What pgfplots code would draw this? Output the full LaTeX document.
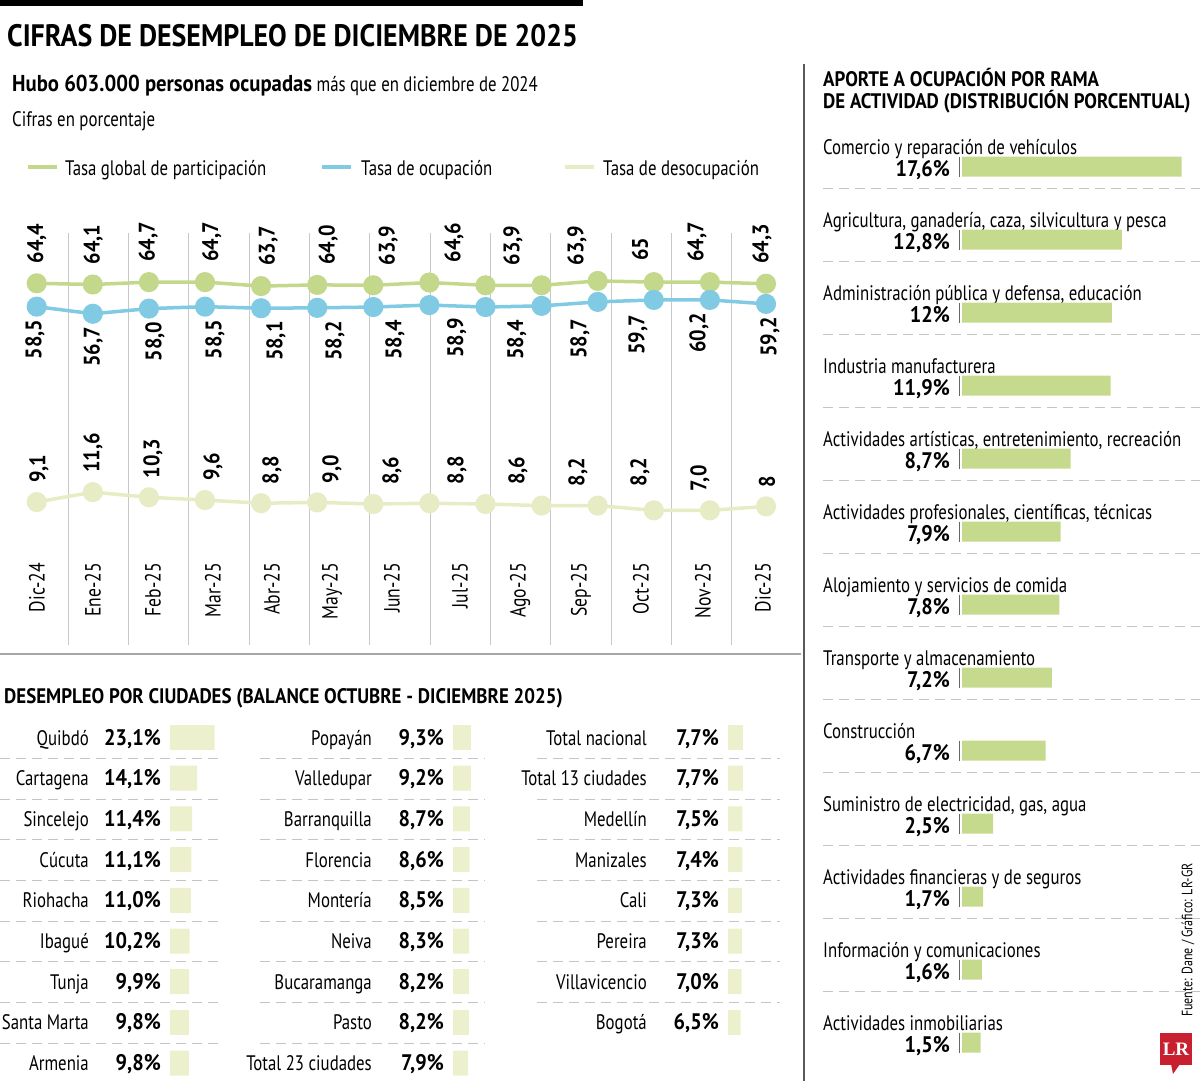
\documentclass[border=0pt]{standalone}
\usepackage{fontspec}
\setmainfont{PT Sans}[FakeStretch=0.8]
\newfontfamily\bfc{PT Sans}[FakeStretch=0.9]
\newfontfamily\lrfont{Liberation Serif}
\usepackage{pgfplots}
\usepackage{pgfplotstable}
\pgfplotsset{compat=1.18}

\definecolor{cpart}{HTML}{C4D88C}
\definecolor{cocup}{HTML}{80CAE4}
\definecolor{cdes}{HTML}{E7ECC4}
\definecolor{cbar}{HTML}{C6DA8E}
\definecolor{ccity}{HTML}{ECF0CC}
\definecolor{cgrid}{HTML}{C8C8C8}
\definecolor{cdash}{HTML}{C4C4C4}
\definecolor{lrred}{HTML}{C8202F}
\newcommand\fs[1]{\fontsize{#1}{#1}\selectfont}
\newcommand\bb{\bfc\bfseries}

% city blocks: row, value, label
\pgfplotstableread{
r v l
0 23.1 {23,1}
1 14.1 {14,1}
2 11.4 {11,4}
3 11.1 {11,1}
4 11.0 {11,0}
5 10.2 {10,2}
6 9.9 {9,9}
7 9.8 {9,8}
8 9.8 {9,8}
}\cityA
\pgfplotstableread{
r v l
0 9.3 {9,3}
1 9.2 {9,2}
2 8.7 {8,7}
3 8.6 {8,6}
4 8.5 {8,5}
5 8.3 {8,3}
6 8.2 {8,2}
7 8.2 {8,2}
8 7.9 {7,9}
}\cityB
\pgfplotstableread{
r v l
0 7.7 {7,7}
1 7.7 {7,7}
2 7.5 {7,5}
3 7.4 {7,4}
4 7.3 {7,3}
5 7.3 {7,3}
6 7.0 {7,0}
7 6.5 {6,5}
}\cityC
\pgfplotstableread{
r v l
0 17.6 {17,6}
1 12.8 {12,8}
2 12.0 {12}
3 11.9 {11,9}
4 8.7 {8,7}
5 7.9 {7,9}
6 7.8 {7,8}
7 7.2 {7,2}
8 6.7 {6,7}
9 2.5 {2,5}
10 1.7 {1,7}
11 1.6 {1,6}
12 1.5 {1,5}
}\ramas

\pgfplotsset{
  citybox/.style={scale only axis, width=19.3pt, height=325.6pt,
    xmin=0, xmax=10, ymin=0, ymax=8, y dir=reverse, clip=false,
    axis line style={draw=none}, major tick length=0pt, xtick=\empty,
    ytick={0,...,8},
    yticklabel style={anchor=base east, inner sep=0pt, xshift=-81pt, yshift=-7.5pt, font=\fs{21}}},
  pctlab/.style={draw=none, mark=none, nodes near coords={\pgfplotspointmeta\%},
    point meta=explicit symbolic,
    every node near coord/.append style={anchor=base east, inner sep=0pt, xshift=-9pt, yshift=-7.5pt, font=\fs{22.5}\bb, text=black}},
}

\begin{document}
\begin{tikzpicture}
\path[use as bounding box] (0pt,0pt) rectangle (1200pt,-1081pt);
\fill[black] (0pt,0pt) rectangle (583pt,-6pt);
\node[anchor=base west, inner sep=0pt] at (7pt,-47pt) {\fs{31}\bb CIFRAS DE DESEMPLEO DE DICIEMBRE DE 2025};
\node[anchor=base west, inner sep=0pt] at (12pt,-92pt) {\fs{21}{\fs{23}\bb Hubo 603.000 personas ocupadas} más que en diciembre de 2024};
\node[anchor=base west, inner sep=0pt] at (12pt,-126pt) {\fs{21}Cifras en porcentaje};

% legend
\draw[cpart, line width=4pt] (28pt,-167pt) -- (57pt,-167pt);
\node[anchor=base west, inner sep=0pt] at (65pt,-175pt) {\fs{21}Tasa global de participación};
\draw[cocup, line width=4pt] (322pt,-167pt) -- (351pt,-167pt);
\node[anchor=base west, inner sep=0pt] at (361pt,-175pt) {\fs{21}Tasa de ocupación};
\draw[cdes, line width=4pt] (565pt,-167pt) -- (594pt,-167pt);
\node[anchor=base west, inner sep=0pt] at (603pt,-175pt) {\fs{21}Tasa de desocupación};

% monthly rates
\begin{axis}[at={(0pt,-645pt)}, anchor=south west, scale only axis,
  width=800pt, height=412pt, xmin=0, xmax=800, ymin=-27.05, ymax=77.12,
  clip=false, axis line style={draw=none}, ytick=\empty, major tick length=0pt,
  xtick={37,93,153,213,272,332,392,460,520,581,641,703,763},
  xticklabels={Dic-24,Ene-25,Feb-25,Mar-25,Abr-25,May-25,Jun-25,Jul-25,Ago-25,Sep-25,Oct-25,Nov-25,Dic-25},
  xticklabel style={rotate=90, anchor=east, inner sep=0pt, font=\fs{22}},
  xticklabel shift=-82pt,
  extra x ticks={68.3,128.6,188.9,249.2,309.5,369.8,430.1,490.4,550.7,611,671.3,731.6},
  extra x tick labels={},
  extra x tick style={grid=major, major grid style={cgrid, line width=0.9pt}},
]
\addplot[cpart, line width=3.5pt, mark=*, mark size=8.3pt, mark options={draw=none, fill=cpart}] table {
x y
36.7 64.4
92.8 64.1
148.9 64.7
205.0 64.7
261.1 63.7
317.2 64.0
373.3 63.9
429.4 64.6
485.5 63.9
541.6 63.9
597.7 65.0
653.8 64.7
709.9 64.7
766.0 64.3
};
\addplot[cocup, line width=3.5pt, mark=*, mark size=8.3pt, mark options={draw=none, fill=cocup}] table {
x y
36.7 58.5
92.8 56.7
148.9 58.0
205.0 58.5
261.1 58.1
317.2 58.2
373.3 58.4
429.4 58.9
485.5 58.4
541.6 58.7
597.7 59.7
653.8 60.2
709.9 60.2
766.0 59.2
};
\addplot[cdes, line width=3.5pt, mark=*, mark size=8.3pt, mark options={draw=none, fill=cdes}] table {
x y
36.7 9.1
92.8 11.6
148.9 10.3
205.0 9.6
261.1 8.8
317.2 9.0
373.3 8.6
429.4 8.8
485.5 8.6
541.6 8.2
597.7 8.2
653.8 7.0
709.9 7.0
766.0 8.0
};
% value labels
\addplot[draw=none, mark=none, nodes near coords, point meta=explicit symbolic,
  every node near coord/.append style={yshift=20pt, rotate=90, anchor=west, inner sep=0pt, font=\fs{22.5}\bb, text=black}]
  table[meta=l] {
x y l
36.7 64.4 {64,4}
93.3 64.1 {64,1}
148.3 64.7 {64,7}
211.7 64.7 {64,7}
268.3 63.7 {63,7}
328.3 64.0 {64,0}
388.3 63.9 {63,9}
454 64.6 {64,6}
513 63.9 {63,9}
577 63.9 {63,9}
640 65 {65}
697 64.7 {64,7}
762 64.3 {64,3}
};
\addplot[draw=none, mark=none, nodes near coords, point meta=explicit symbolic,
  every node near coord/.append style={yshift=-13pt, rotate=90, anchor=east, inner sep=0pt, font=\fs{22.5}\bb, text=black}]
  table[meta=l] {
x y l
35 58.5 {58,5}
93.3 56.7 {56,7}
155 58.0 {58,0}
215 58.5 {58,5}
276 58.1 {58,1}
335 58.2 {58,2}
395 58.4 {58,4}
456.7 58.9 {58,9}
516.7 58.4 {58,4}
580 58.7 {58,7}
638 59.7 {59,7}
699 60.2 {60,2}
770 59.2 {59,2}
};
\addplot[draw=none, mark=none, nodes near coords, point meta=explicit symbolic,
  every node near coord/.append style={yshift=19pt, rotate=90, anchor=west, inner sep=0pt, font=\fs{22.5}\bb, text=black}]
  table[meta=l] {
x y l
39 9.1 {9,1}
93 11.6 {11,6}
153 10.3 {10,3}
213 9.6 {9,6}
272 8.8 {8,8}
332 9.0 {9,0}
392 8.6 {8,6}
457 8.8 {8,8}
518 8.6 {8,6}
578 8.2 {8,2}
640 8.2 {8,2}
700 7.0 {7,0}
767 8 {8}
};
\end{axis}

\draw[gray!70, line width=1.8pt] (0pt,-654pt) -- (801pt,-654pt);
\draw[black!65, line width=1.5pt] (804pt,-64pt) -- (804pt,-1081pt);

% cities
\node[anchor=base west, inner sep=0pt] at (4pt,-703pt) {\fs{21}\bb DESEMPLEO POR CIUDADES (BALANCE OCTUBRE - DICIEMBRE 2025)};
\foreach \k in {0,...,7} {
  \draw[cdash, line width=1pt, dash pattern=on 10pt off 6pt] (0pt,{-(758.3+40.7*\k)*1pt}) -- (218pt,{-(758.3+40.7*\k)*1pt});
  \draw[cdash, line width=1pt, dash pattern=on 10pt off 6pt] (260pt,{-(758.3+40.7*\k)*1pt}) -- (485pt,{-(758.3+40.7*\k)*1pt});
}
\foreach \k in {0,...,6} {
  \draw[cdash, line width=1pt, dash pattern=on 10pt off 6pt] (537pt,{-(758.3+40.7*\k)*1pt}) -- (780pt,{-(758.3+40.7*\k)*1pt});
}
\begin{axis}[citybox, at={(170pt,-737.5pt)}, anchor=north west,
  yticklabels={Quibdó,Cartagena,Sincelejo,Cúcuta,Riohacha,Ibagué,Tunja,Santa Marta,Armenia}]
\addplot[xbar, bar width=25pt, fill=ccity, draw=none] table[x=v, y=r] {\cityA};
\addplot[pctlab] table[x expr=0, y=r, meta=l] {\cityA};
\end{axis}
\begin{axis}[citybox, at={(453pt,-737.5pt)}, anchor=north west,
  yticklabels={Popayán,Valledupar,Barranquilla,Florencia,Montería,Neiva,Bucaramanga,Pasto,Total 23 ciudades}]
\addplot[xbar, bar width=25pt, fill=ccity, draw=none] table[x=v, y=r] {\cityB};
\addplot[pctlab] table[x expr=0, y=r, meta=l] {\cityB};
\end{axis}
\begin{axis}[citybox, at={(728pt,-737.5pt)}, anchor=north west,
  yticklabels={Total nacional,Total 13 ciudades,Medellín,Manizales,Cali,Pereira,Villavicencio,Bogotá}]
\addplot[xbar, bar width=25pt, fill=ccity, draw=none] table[x=v, y=r] {\cityC};
\addplot[pctlab] table[x expr=0, y=r, meta=l] {\cityC};
\end{axis}

% branches
\node[anchor=base west, inner sep=0pt] at (823pt,-86pt) {\fs{21}\bb APORTE A OCUPACIÓN POR RAMA};
\node[anchor=base west, inner sep=0pt] at (823pt,-109pt) {\fs{21}\bb DE ACTIVIDAD (DISTRIBUCIÓN PORCENTUAL)};
\foreach \k in {0,...,11} {
  \draw[cdash, line width=1pt, dash pattern=on 10pt off 6pt] (823pt,{-(188.3+73*\k)*1pt}) -- (1200pt,{-(188.3+73*\k)*1pt});
}
\begin{axis}[at={(962pt,-166.7pt)}, anchor=north west, scale only axis,
  width=219.7pt, height=876pt, xmin=0, xmax=17.6, ymin=0, ymax=12, y dir=reverse,
  clip=false, axis line style={draw=none}, major tick length=0pt, xtick=\empty,
  ytick={0,...,12},
  yticklabels={Comercio y reparación de vehículos,
    {Agricultura, ganadería, caza, silvicultura y pesca},
    {Administración pública y defensa, educación},
    Industria manufacturera,
    {Actividades artísticas, entretenimiento, recreación},
    {Actividades profesionales, científicas, técnicas},
    Alojamiento y servicios de comida,
    Transporte y almacenamiento,
    Construcción,
    {Suministro de electricidad, gas, agua},
    Actividades financieras y de seguros,
    Información y comunicaciones,
    Actividades inmobiliarias},
  yticklabel style={anchor=base west, inner sep=0pt, xshift=-139pt, yshift=12.7pt, font=\fs{21}},
]
\addplot[xbar, bar width=20pt, fill=cbar, draw=none] table[x=v, y=r] {\ramas};
\addplot[draw=none, mark=|, mark size=10pt, mark options={black!60, line width=0.8pt}] table[x expr=-0.24, y=r] {\ramas};
\addplot[pctlab, every node near coord/.append style={xshift=-3pt, yshift=-2.5pt}] table[x expr=0, y=r, meta=l] {\ramas};
\end{axis}

% source and logo
\node[rotate=90, anchor=west, inner sep=0pt, font=\fs{15}] at (1188pt,-1017pt) {Fuente: Dane / Gráfico: LR-GR};
\fill[lrred] (1160pt,-1033pt) rectangle (1192pt,-1065pt);
\fill[lrred] (1171pt,-1064pt) -- (1180pt,-1064pt) -- (1173pt,-1074pt) -- cycle;
\node[text=white, inner sep=0pt, font=\lrfont\bfseries\fs{19}] at (1176pt,-1049pt) {LR};
\end{tikzpicture}
\end{document}
